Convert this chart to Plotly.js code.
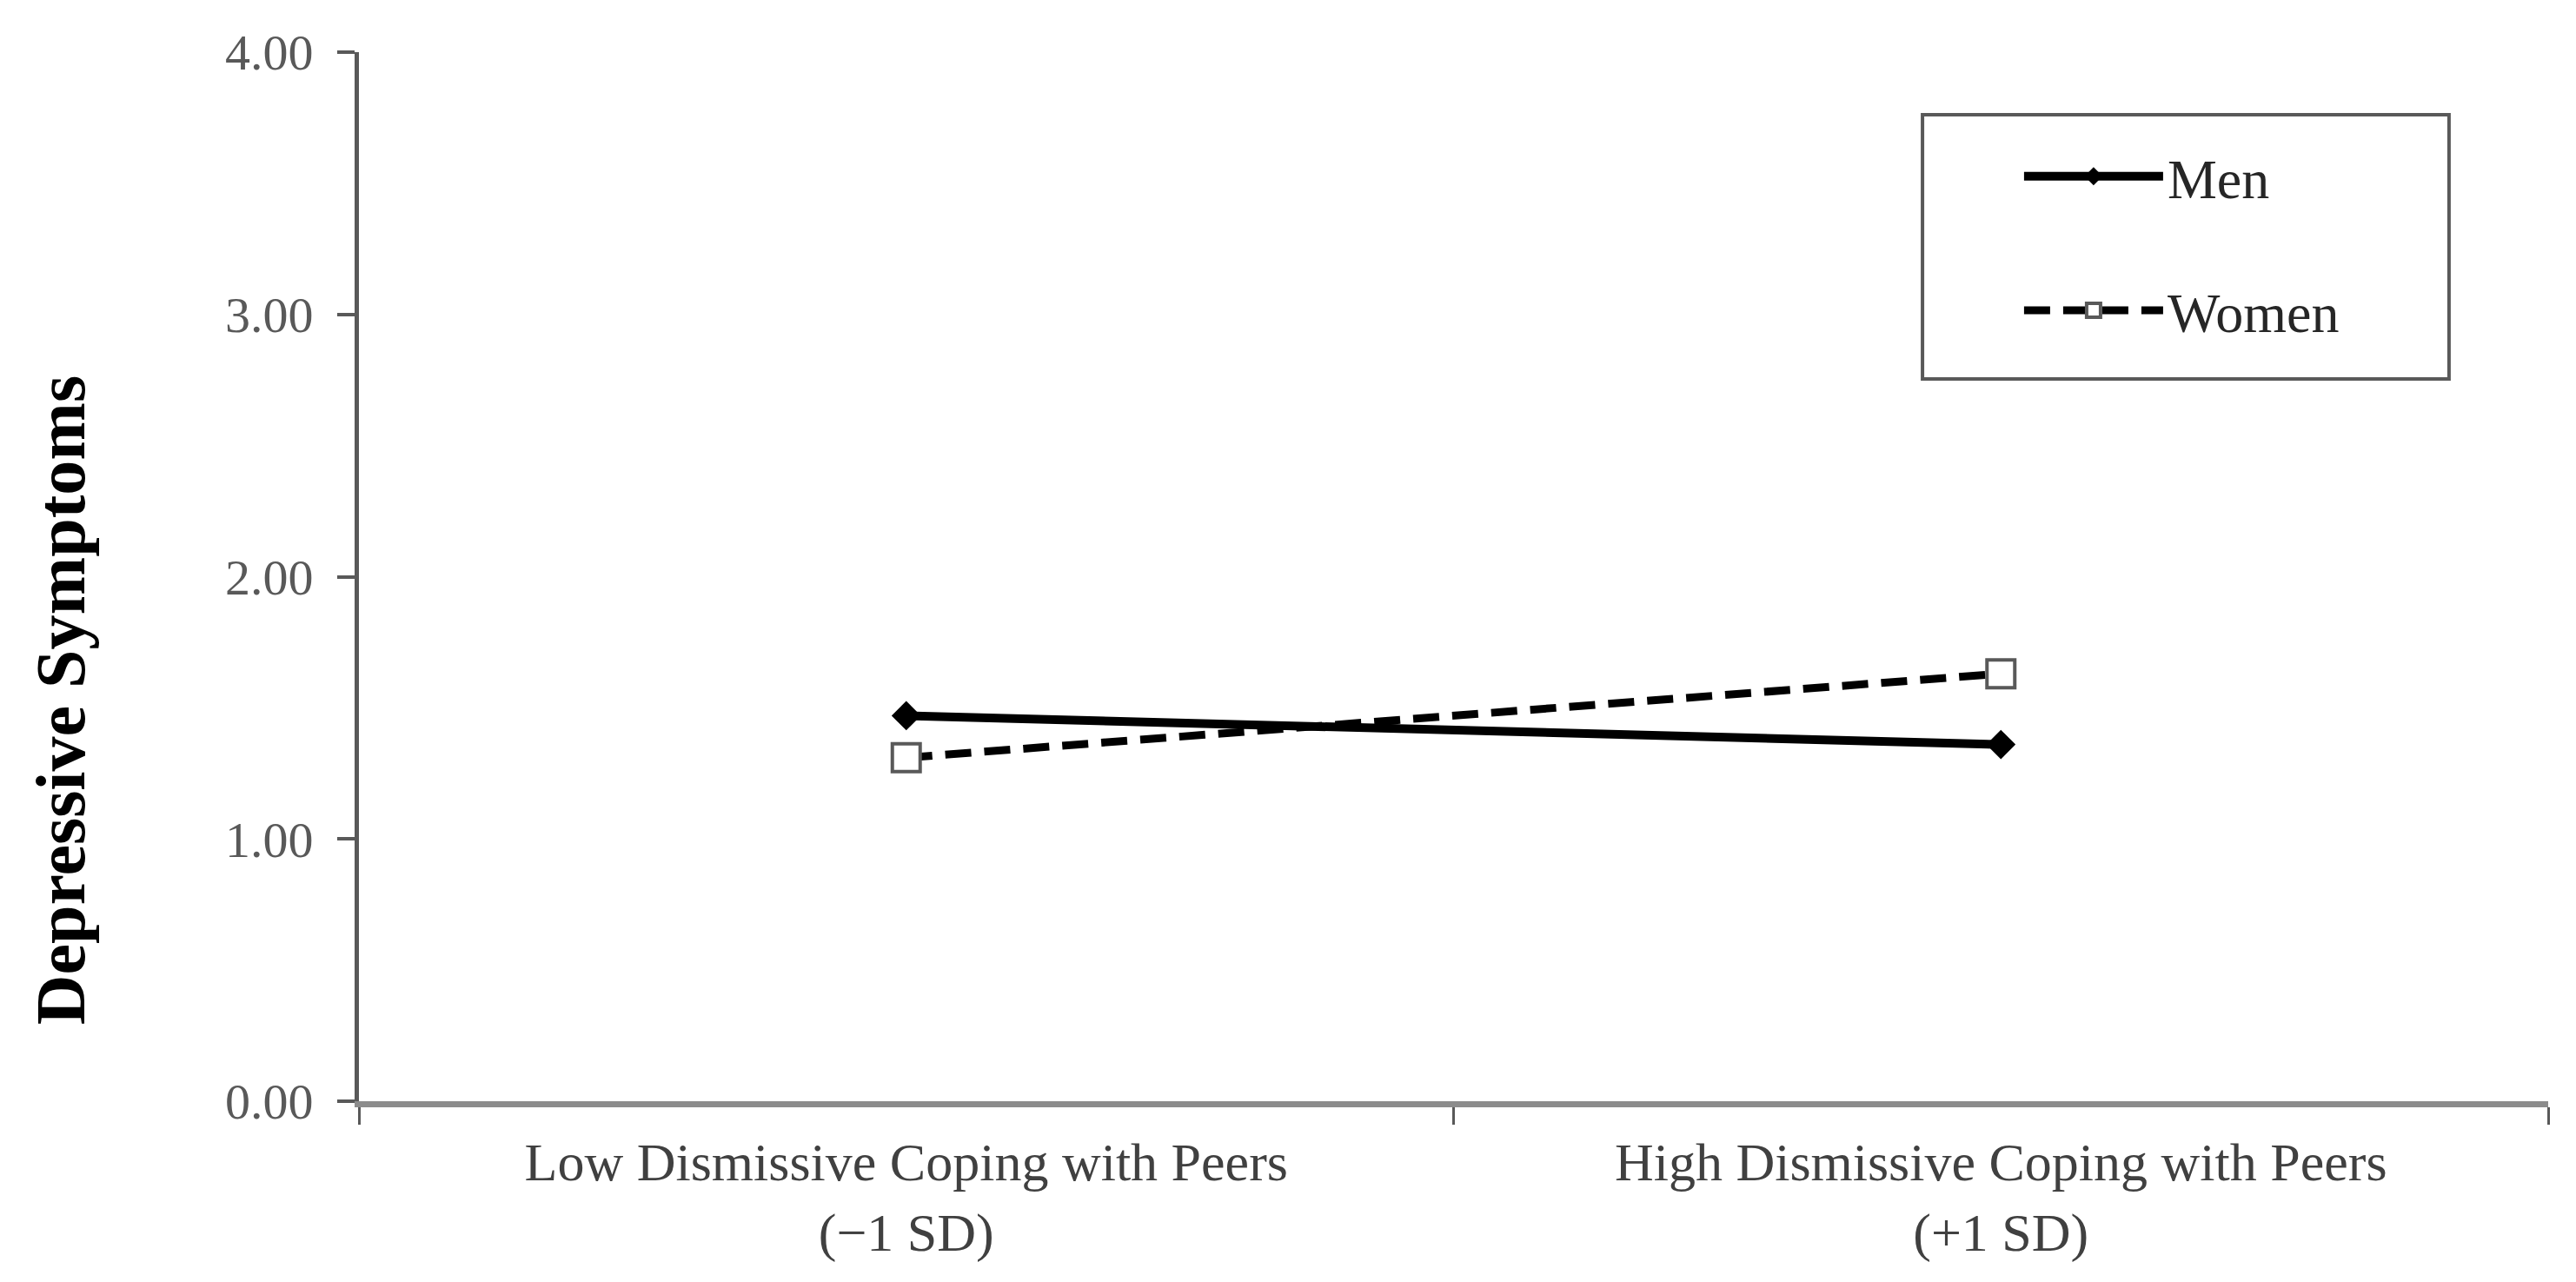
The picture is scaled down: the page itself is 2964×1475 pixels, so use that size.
<!DOCTYPE html>
<html>
<head>
<meta charset="utf-8">
<script src="https://cdn.plot.ly/plotly-3.0.1.min.js"></script>
<style>
  html, body { margin: 0; padding: 0; background: #ffffff; }
  #chart { width: 2964px; height: 1475px; }
</style>
</head>
<body>
<div id="chart"></div>
<script>
// ---- data ----
const categories = [
  "Low Dismissive Coping with Peers<br>(\u22121 SD)",
  "High Dismissive Coping with Peers<br>(+1 SD)"
];
const seriesNames = ["Men", "Women"];
const menValues = [1.47, 1.36];
const womenValues = [1.31, 1.63];
const yTickValues = [0, 1, 2, 3, 4];
const yTickLabels = ["0.00", "1.00", "2.00", "3.00", "4.00"];
const yTitle = "Depressive Symptoms";

const serif = "Liberation Serif, Times New Roman, serif";

const traces = [
  {
    type: "scatter",
    mode: "lines+markers",
    name: seriesNames[0],
    legendgroup: "g1",
    x: categories,
    y: menValues,
    line: { color: "#000000", width: 10 },
    marker: { symbol: "diamond", size: 26, color: "#000000", line: { width: 0 } }
  },
  {
    type: "scatter",
    mode: "lines+markers",
    name: seriesNames[1],
    legendgroup: "g2",
    x: categories,
    y: womenValues,
    line: { color: "#000000", width: 9, dash: "30px,15px" },
    marker: { symbol: "square", size: 32, color: "#ffffff", line: { color: "#595959", width: 4 } }
  }
];

const layout = {
  width: 2964,
  height: 1475,
  margin: { l: 413, r: 32, t: 60, b: 208, pad: 0 },
  paper_bgcolor: "#ffffff",
  plot_bgcolor: "#ffffff",
  showlegend: true,
  legend: {
    x: 0.7586, y: 0.9216, xanchor: "left", yanchor: "top",
    bgcolor: "rgba(0,0,0,0)", borderwidth: 0,
    itemwidth: 160,
    tracegroupgap: 68,
    font: { family: serif, size: 64, color: "#262626" }
  },
  xaxis: {
    type: "category",
    range: [-0.5, 1.5],
    tickson: "boundaries",
    ticks: "outside", ticklen: 20, tickwidth: 3, tickcolor: "#595959",
    ticklabelstandoff: 10,
    showline: true, linewidth: 7, linecolor: "#8c8c8c",
    showgrid: false, zeroline: false,
    tickfont: { family: serif, size: 62, color: "#404040" },
    fixedrange: true
  },
  yaxis: {
    range: [0, 4],
    tickvals: yTickValues,
    ticktext: yTickLabels,
    ticks: "outside", ticklen: 20, tickwidth: 4, tickcolor: "#595959",
    ticklabelstandoff: 16,
    showline: true, linewidth: 5, linecolor: "#595959",
    showgrid: false, zeroline: false,
    tickfont: { family: serif, size: 58, color: "#595959" },
    fixedrange: true
  },
  shapes: [
    {
      type: "rect", xref: "paper", yref: "paper",
      x0: 0.7142, x1: 0.9547, y0: 0.6885, y1: 0.9403,
      line: { color: "#595959", width: 4 },
      fillcolor: "rgba(0,0,0,0)", layer: "above"
    }
  ],
  annotations: [
    {
      text: "<b>" + yTitle + "</b>",
      xref: "paper", yref: "paper",
      x: -0.136, y: 0.382,
      xanchor: "center", yanchor: "middle",
      textangle: -90, showarrow: false,
      font: { family: serif, size: 80, color: "#000000" }
    }
  ]
};

Plotly.newPlot("chart", traces, layout, { displayModeBar: false, staticPlot: true });
</script>
</body>
</html>
